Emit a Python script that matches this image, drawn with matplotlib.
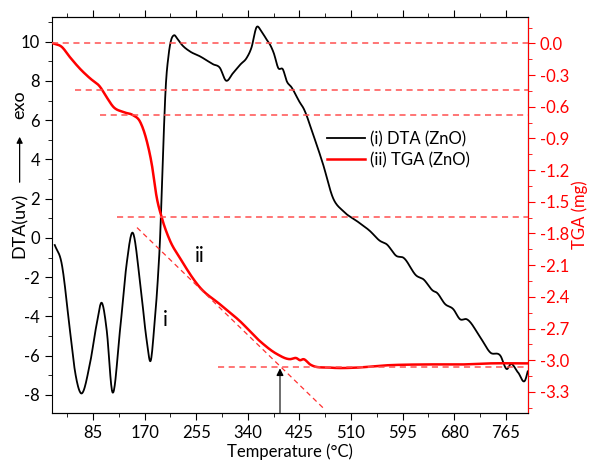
import matplotlib.pyplot as plt
import numpy as np
from matplotlib.ticker import MultipleLocator

plt.rcParams['font.family'] = ['Lato', 'DejaVu Sans']
plt.rcParams['axes.unicode_minus'] = False

# DTA (ZnO) curve
dta_t = [22, 33.4, 47, 55.4, 64.7, 80, 91, 99.3, 107.6, 116.8, 129.5, 140.5, 149.7,
         162.4, 173.4, 180, 186, 192, 195.3, 200, 205, 209, 213, 218.4, 224, 231, 245, 261,
         283, 294, 304, 315.6, 328, 338, 346, 354.6, 362, 371, 376.5, 383, 390, 398, 404,
         412, 426, 431.4, 447.4, 463.8, 480.3, 497, 519.3, 541, 557.8, 568.7, 585, 596, 618,
         629, 645.5, 651, 665, 678.5, 689.5, 700.5, 723, 739.5, 756, 767, 772.8, 785, 797.5,
         801]
dta_v = [-0.36, -1.3, -4.7, -6.8, -7.9, -6.4, -4.4, -3.3, -4.7, -7.84, -4.7, -1.3, 0.27,
         -2.2, -5.2, -6.26, -4.5, -2.0, -0.15, 4.0, 7.8, 9.2, 10.0, 10.33, 10.15, 9.86, 9.5,
         9.26, 8.85, 8.67, 8.02, 8.4, 8.85, 9.17, 9.7, 10.75, 10.55, 10.11, 9.86, 9.4, 8.67,
         8.58, 8.0, 7.68, 6.89, 6.63, 5.29, 3.77, 2.04, 1.37, 0.87, 0.36, -0.15, -0.32,
         -0.92, -1.0, -1.93, -2.1, -2.7, -2.78, -3.37, -3.63, -4.14, -4.14, -5.07, -5.84,
         -6.0, -6.68, -6.43, -6.85, -7.2, -6.8]

# TGA (ZnO) curve
tga_t = [19.6, 33.4, 47, 63.6, 80, 96.5, 107.6, 118.4, 135, 151, 162.4, 173.4, 181.7, 190,
         198.3, 212, 228, 261, 294, 327, 360, 387.5, 409.4, 420, 426, 431.5, 442.6, 475.6,
         519.5, 563, 629, 695, 739.5, 801]
tga_v = [0.0, -0.032, -0.13, -0.24, -0.33, -0.41, -0.51, -0.60, -0.65, -0.68, -0.74, -0.92,
         -1.14, -1.46, -1.65, -1.87, -2.03, -2.31, -2.47, -2.63, -2.82, -2.94, -2.99, -2.98,
         -3.0, -2.99, -3.04, -3.07, -3.07, -3.05, -3.04, -3.04, -3.03, -3.03]

# guide lines (TGA axis): level, start temperature
guide_levels = [0.0, -0.443, -0.678, -1.64, -3.064]
guide_starts = [17.5, 55.4, 96.5, 124.5, 290.9]
tangent_t = [157.5, 463.8]
tangent_v = [-1.744, -3.45]
arrow_t = 393
arrow_v = -3.05

xticks = [85, 170, 255, 340, 425, 510, 595, 680, 765]


def smooth(xs, ys, n=1200):
    # cubic Hermite through the read points, slopes by finite differences
    xs = np.asarray(xs, float)
    ys = np.asarray(ys, float)
    m = np.gradient(ys, xs)
    xf = np.linspace(xs[0], xs[-1], n)
    i = np.clip(np.searchsorted(xs, xf) - 1, 0, len(xs) - 2)
    h = xs[i + 1] - xs[i]
    s = (xf - xs[i]) / h
    h00 = 2 * s**3 - 3 * s**2 + 1
    h10 = s**3 - 2 * s**2 + s
    h01 = -2 * s**3 + 3 * s**2
    h11 = s**3 - s**2
    yf = h00 * ys[i] + h10 * h * m[i] + h01 * ys[i + 1] + h11 * h * m[i + 1]
    return xf, yf


fig = plt.figure(figsize=(5.95, 4.65), dpi=100)
ax = fig.add_axes([0.0874, 0.1118, 0.8, 0.8516])
ax2 = ax.twinx()

ax.plot(*smooth(dta_t, dta_v), color='black', lw=1.3, label='(i) DTA (ZnO)')
ax.plot([], [], color='red', lw=1.8, label='(ii) TGA (ZnO)')
ax2.plot(*smooth(tga_t, tga_v), color='red', lw=1.8)

for lev, st in zip(guide_levels, guide_starts):
    ax2.plot([st, 801.5], [lev, lev], color='#ff5050', ls=(0, (4, 3)), lw=1.1)
ax2.plot(tangent_t, tangent_v, color='#ff3030', ls=(0, (4, 3)), lw=0.9)
ax2.plot([arrow_t, arrow_t], [-3.5, arrow_v - 0.08], color='#555555', lw=1.2)
ax2.annotate('', xy=(arrow_t, arrow_v), xytext=(arrow_t, arrow_v - 0.1),
             arrowprops=dict(arrowstyle='-|>', color='black', lw=1.0, mutation_scale=10))

ax.set_xlim(17.5, 801.5)
ax.set_ylim(-8.92, 11.26)
ax2.set_ylim(-3.5, 0.25)

ax.set_xticks(xticks)
ax.xaxis.set_minor_locator(MultipleLocator(42.5))
ax.yaxis.set_major_locator(MultipleLocator(2))
ax.yaxis.set_minor_locator(MultipleLocator(1))
ax2.yaxis.set_major_locator(MultipleLocator(0.3))
ax2.yaxis.set_minor_locator(MultipleLocator(0.15))
ax2.yaxis.set_major_formatter(plt.FuncFormatter(lambda v, p: '%.1f' % v))

ax.tick_params(axis='both', which='major', labelsize=12, length=5, direction='out')
ax.tick_params(axis='both', which='minor', length=3, direction='out')
ax.tick_params(axis='x', which='both', top=True)
ax2.tick_params(axis='y', which='major', labelsize=12, length=5, colors='red')
ax2.tick_params(axis='y', which='minor', length=3, colors='red')
ax2.spines['right'].set_color('red')
ax2.spines['left'].set_visible(False)

ax.text(261, -0.92, 'ii', fontsize=15, ha='center', va='center')
ax.text(204, -4.2, 'i', fontsize=15, ha='center', va='center')

ax.set_xlabel('Temperature (°C)', fontsize=12, labelpad=2)
ax2.set_ylabel('TGA (mg)', fontsize=12, color='red', labelpad=2)

fig.text(0.033, (465 - 225) / 465, 'DTA(uv)', rotation=90, fontsize=13, ha='center', va='center')
fig.text(0.033, (465 - 105) / 465, 'exo', rotation=90, fontsize=13, ha='center', va='center')
ax.annotate('', xy=(0.033, (465 - 134) / 465), xytext=(0.033, (465 - 185) / 465),
            xycoords='figure fraction', textcoords='figure fraction',
            arrowprops=dict(arrowstyle='-|>', color='black', lw=0.9, mutation_scale=9))

ax.legend(loc='upper left', bbox_to_anchor=(0.546, 0.75), frameon=False, fontsize=12,
          handlelength=2.3, handletextpad=0.3, labelspacing=0.3)

fig.savefig('out.png', dpi=100)
